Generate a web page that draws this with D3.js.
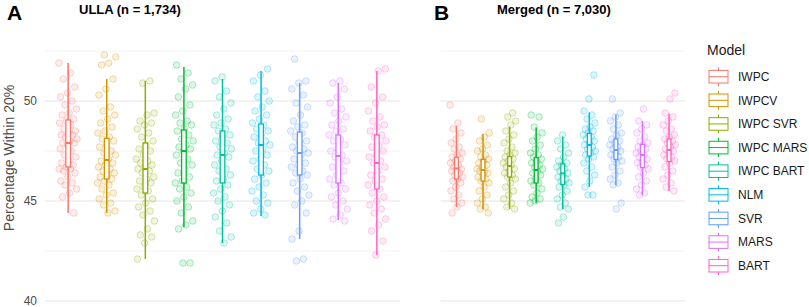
<!DOCTYPE html>
<html>
<head>
<meta charset="utf-8">
<script src="https://cdn.jsdelivr.net/npm/d3@7"></script>
<style>
    body { margin: 0; background: #ffffff; }
    text { font-family: "Liberation Sans", Arial, Helvetica, sans-serif; }
</style>
</head>
<body>
<svg id="chart" width="809" height="307"></svg>
<script>
const models = ['IWPC', 'IWPCV', 'IWPC SVR', 'IWPC MARS', 'IWPC BART', 'NLM', 'SVR', 'MARS', 'BART'];
const colors = ['#F8766D', '#D39200', '#93AA00', '#00BA38', '#00C19F', '#00B9E3', '#619CFF', '#DB72FB', '#FF61C3'];

const yTicks = [40, 45, 50];
const yGrid = [40, 42.5, 45, 47.5, 50, 52.5];

// ULLA box stats (panel A)
const ullaMin = [44.4, 44.4, 42.1, 43.7, 42.9, 44.25, 43.1, 44.05, 42.3];
const ullaQ1 = [46.7, 46.1, 45.4, 45.9, 45.9, 46.3, 46.3, 45.9, 45.6];
const ullaMed = [47.9, 47.05, 46.6, 47.5, 47.3, 47.8, 47.4, 47.25, 46.9];
const ullaQ3 = [49.05, 48.13, 47.9, 48.55, 48.5, 48.85, 48.45, 48.3, 48.3];
const ullaMax = [51.9, 51.1, 51.0, 51.7, 51.1, 51.5, 50.9, 50.9, 51.5];

// Merged box stats (panel B)
const mergedMin = [44.7, 44.6, 44.6, 44.9, 44.6, 45.7, 45.8, 45.3, 45.5];
const mergedQ1 = [46.1, 46.0, 46.2, 45.9, 45.83, 47.25, 47.08, 46.67, 46.97];
const mergedMed = [46.63, 46.55, 46.75, 46.55, 46.38, 47.8, 47.55, 47.3, 47.55];
const mergedQ3 = [47.18, 47.08, 47.22, 47.17, 46.85, 48.38, 48.1, 47.83, 48.1];
const mergedMax = [48.75, 48.35, 48.72, 48.67, 48.22, 49.43, 49.33, 49.0, 49.38];

// individual runs, ULLA
const ullaPoints = [
    [51.9, 51.4, 51.1, 50.7, 50.4, 50.2, 50.0, 49.8, 49.6, 49.4, 49.3, 49.1, 49.0, 48.9, 48.8, 48.6, 48.5, 48.4, 48.3, 48.3, 48.2, 48.1, 48.0, 47.9, 47.9, 47.8, 47.6, 47.5, 47.3, 47.2, 47.0, 46.9, 46.8, 46.7, 46.6, 46.6, 46.5, 46.4, 46.2, 46.0, 45.9, 45.8, 45.6, 45.4, 45.2, 44.4],
    [52.3, 52.2, 51.9, 51.8, 51.1, 50.6, 50.3, 49.7, 49.5, 49.3, 49.1, 48.9, 48.7, 48.5, 48.4, 48.2, 48.1, 48.0, 47.8, 47.7, 47.5, 47.4, 47.3, 47.1, 47.0, 46.9, 46.8, 46.7, 46.6, 46.5, 46.4, 46.3, 46.2, 46.1, 46.0, 45.9, 45.8, 45.6, 45.4, 45.3, 45.1, 44.9, 44.8, 44.5, 44.4],
    [51.0, 50.9, 49.4, 49.3, 49.0, 48.9, 48.8, 48.6, 48.4, 48.2, 48.0, 47.8, 47.6, 47.5, 47.3, 47.1, 47.0, 46.9, 46.8, 46.7, 46.6, 46.5, 46.4, 46.2, 46.1, 46.0, 45.9, 45.7, 45.6, 45.5, 45.3, 45.1, 44.9, 44.7, 44.5, 44.3, 44.0, 43.6, 43.3, 43.2, 42.9, 42.1],
    [51.8, 51.4, 51.1, 50.8, 50.6, 50.2, 49.8, 49.5, 49.3, 49.0, 48.9, 48.8, 48.6, 48.5, 48.3, 48.1, 48.0, 47.8, 47.7, 47.6, 47.5, 47.3, 47.1, 46.9, 46.8, 46.6, 46.4, 46.2, 46.0, 45.9, 45.7, 45.6, 45.4, 45.2, 45.0, 44.7, 44.4, 44.0, 43.8, 43.6, 41.9, 41.9],
    [51.2, 51.0, 50.5, 50.2, 49.9, 49.6, 49.3, 49.1, 48.9, 48.8, 48.6, 48.5, 48.3, 48.2, 48.0, 47.9, 47.7, 47.6, 47.4, 47.3, 47.2, 47.0, 46.8, 46.6, 46.5, 46.3, 46.1, 46.0, 45.8, 45.6, 45.4, 45.2, 45.0, 44.8, 44.5, 44.2, 43.9, 43.5, 43.2, 42.9],
    [51.6, 51.3, 51.0, 50.5, 50.2, 50.0, 49.7, 49.5, 49.3, 49.1, 48.9, 48.8, 48.6, 48.5, 48.3, 48.2, 48.0, 47.9, 47.8, 47.6, 47.5, 47.3, 47.1, 47.0, 46.8, 46.6, 46.5, 46.3, 46.1, 45.9, 45.7, 45.5, 45.3, 45.0, 44.9, 44.6, 44.4, 44.3],
    [52.1, 51.0, 50.9, 50.6, 50.3, 49.9, 49.7, 49.3, 49.0, 48.8, 48.7, 48.5, 48.4, 48.2, 48.0, 47.9, 47.7, 47.6, 47.5, 47.4, 47.3, 47.1, 46.9, 46.8, 46.7, 46.5, 46.4, 46.3, 46.1, 45.9, 45.7, 45.5, 45.3, 45.0, 44.8, 44.4, 43.5, 43.1, 42.1, 42.0],
    [51.0, 50.9, 50.6, 50.2, 49.9, 49.6, 49.4, 49.2, 49.0, 48.8, 48.6, 48.5, 48.3, 48.1, 48.0, 47.8, 47.6, 47.5, 47.3, 47.2, 47.0, 46.9, 46.7, 46.5, 46.3, 46.1, 45.9, 45.8, 45.6, 45.4, 45.2, 45.0, 44.8, 44.6, 44.3, 44.1, 44.0],
    [51.6, 51.5, 50.7, 50.2, 49.9, 49.5, 49.2, 49.0, 48.8, 48.7, 48.5, 48.3, 48.2, 48.0, 47.8, 47.7, 47.5, 47.3, 47.2, 47.0, 46.9, 46.7, 46.5, 46.3, 46.1, 46.0, 45.8, 45.6, 45.4, 45.2, 45.0, 44.8, 44.6, 44.4, 44.1, 43.8, 43.5, 43.0, 42.3]
];

// individual runs, merged
const mergedPoints = [
    [49.8, 48.9, 48.6, 48.4, 48.1, 47.9, 47.7, 47.6, 47.4, 47.3, 47.2, 47.1, 47.0, 46.9, 46.8, 46.7, 46.6, 46.6, 46.5, 46.4, 46.3, 46.2, 46.1, 46.0, 45.9, 45.7, 45.5, 45.3, 45.1, 44.9, 44.7, 44.4],
    [49.1, 48.4, 48.2, 48.0, 47.8, 47.6, 47.5, 47.3, 47.2, 47.1, 47.0, 46.9, 46.8, 46.7, 46.6, 46.5, 46.5, 46.4, 46.3, 46.2, 46.1, 46.0, 45.9, 45.7, 45.5, 45.3, 45.1, 44.9, 44.7, 44.6, 44.4],
    [49.4, 49.2, 49.0, 48.8, 48.5, 48.3, 48.1, 47.9, 47.7, 47.5, 47.4, 47.3, 47.2, 47.1, 47.0, 46.9, 46.8, 46.7, 46.6, 46.5, 46.4, 46.3, 46.2, 46.1, 45.9, 45.7, 45.5, 45.3, 45.1, 44.9, 44.7, 44.6],
    [49.3, 49.2, 48.7, 48.4, 48.2, 48.0, 47.8, 47.6, 47.4, 47.3, 47.2, 47.1, 47.0, 46.9, 46.8, 46.7, 46.6, 46.5, 46.4, 46.3, 46.1, 46.0, 45.9, 45.8, 45.6, 45.4, 45.2, 45.1, 45.0, 44.9],
    [48.3, 48.0, 47.8, 47.6, 47.4, 47.2, 47.0, 46.9, 46.8, 46.7, 46.6, 46.5, 46.4, 46.3, 46.2, 46.1, 46.0, 45.9, 45.8, 45.7, 45.5, 45.3, 45.1, 44.9, 44.7, 44.6, 44.2, 43.9],
    [51.3, 50.1, 49.5, 49.3, 49.1, 48.9, 48.7, 48.6, 48.5, 48.4, 48.3, 48.2, 48.1, 48.0, 47.9, 47.8, 47.7, 47.6, 47.5, 47.4, 47.3, 47.2, 47.1, 46.9, 46.7, 46.5, 46.3, 46.0, 45.7, 45.3, 45.3],
    [50.1, 49.4, 49.2, 49.0, 48.8, 48.6, 48.4, 48.3, 48.1, 48.0, 47.9, 47.8, 47.7, 47.6, 47.5, 47.4, 47.3, 47.2, 47.1, 47.0, 46.9, 46.7, 46.5, 46.3, 46.1, 45.9, 45.8, 44.9, 44.6],
    [49.6, 49.0, 48.8, 48.6, 48.4, 48.2, 48.0, 47.9, 47.8, 47.7, 47.6, 47.5, 47.4, 47.3, 47.2, 47.1, 47.0, 46.9, 46.8, 46.7, 46.6, 46.4, 46.2, 46.0, 45.8, 45.6, 45.4, 45.3],
    [50.4, 50.1, 49.4, 49.2, 49.0, 48.8, 48.6, 48.5, 48.3, 48.2, 48.1, 48.0, 47.9, 47.8, 47.7, 47.6, 47.5, 47.4, 47.3, 47.2, 47.1, 47.0, 46.9, 46.7, 46.5, 46.3, 46.1, 45.9, 45.7, 45.5]
];

const svg = d3.select('#chart');

const y = d3.scaleLinear().domain([40, 52.5]).range([301, 51]);

function stats(mins, q1s, meds, q3s, maxs) {
    return models.map((m, i) => ({
        model: m, color: colors[i],
        min: mins[i], q1: q1s[i], med: meds[i], q3: q3s[i], max: maxs[i]
    }));
}

function drawPanel(x0, x1, boxStats, points, boxW) {
    const g = svg.append('g');

    const x = d3.scalePoint().domain(models).range([x0, x1]).padding(0.6);
    const jitterW = x.step() * 0.48;

    // gridlines
    g.selectAll('line.grid')
        .data(yGrid)
        .enter().append('line')
        .attr('x1', x0).attr('x2', x1)
        .attr('y1', d => y(d)).attr('y2', d => y(d))
        .attr('stroke', d => (d % 5 === 0) ? '#e6e6e6' : '#f0f0f0')
        .attr('stroke-width', d => (d % 5 === 0) ? 1.1 : 0.8);

    // jittered points (offset spread by golden ratio so it stays deterministic)
    points.forEach((vals, i) => {
        g.append('g').selectAll('circle')
            .data(vals)
            .enter().append('circle')
            .attr('cx', (d, j) => x(models[i]) + (((j * 0.618034 + i * 0.37) % 1) - 0.5) * jitterW)
            .attr('cy', d => y(d))
            .attr('r', 3.3)
            .attr('fill', colors[i])
            .attr('fill-opacity', 0.13)
            .attr('stroke', colors[i])
            .attr('stroke-opacity', 0.3)
            .attr('stroke-width', 1);
    });

    const box = g.selectAll('g.box')
        .data(boxStats)
        .enter().append('g');

    box.append('line')
        .attr('x1', d => x(d.model)).attr('x2', d => x(d.model))
        .attr('y1', d => y(d.max)).attr('y2', d => y(d.min))
        .attr('stroke', d => d.color)
        .attr('stroke-width', 1.5);

    box.append('rect')
        .attr('x', d => x(d.model) - boxW / 2)
        .attr('width', boxW)
        .attr('y', d => y(d.q3))
        .attr('height', d => y(d.q1) - y(d.q3))
        .attr('fill', '#ffffff')
        .attr('stroke', d => d.color)
        .attr('stroke-width', 1.3);

    box.append('line')
        .attr('x1', d => x(d.model) - boxW / 2).attr('x2', d => x(d.model) + boxW / 2)
        .attr('y1', d => y(d.med)).attr('y2', d => y(d.med))
        .attr('stroke', d => d.color)
        .attr('stroke-width', 2);
}

drawPanel(45, 400, stats(ullaMin, ullaQ1, ullaMed, ullaQ3, ullaMax), ullaPoints, 4.6);
drawPanel(440.5, 685, stats(mergedMin, mergedQ1, mergedMed, mergedQ3, mergedMax), mergedPoints, 3.8);

// y axis (panel A only)
svg.append('g')
    .selectAll('text')
    .data(yTicks)
    .enter().append('text')
    .attr('x', 37)
    .attr('y', d => y(d))
    .attr('dy', '0.35em')
    .attr('text-anchor', 'end')
    .attr('font-size', '12px')
    .attr('fill', '#4d4d4d')
    .text(d => d);

svg.append('text')
    .attr('transform', 'translate(14,158) rotate(-90)')
    .attr('text-anchor', 'middle')
    .attr('font-size', '14px')
    .attr('fill', '#4d4d4d')
    .text('Percentage Within 20%');

// panel tags and titles
svg.append('text').attr('x', 7).attr('y', 20)
    .attr('font-size', '21px').attr('font-weight', 'bold').text('A');
svg.append('text').attr('x', 79).attr('y', 14)
    .attr('font-size', '13px').attr('font-weight', 'bold').text('ULLA (n = 1,734)');
svg.append('text').attr('x', 434).attr('y', 20)
    .attr('font-size', '21px').attr('font-weight', 'bold').text('B');
svg.append('text').attr('x', 497).attr('y', 14)
    .attr('font-size', '13px').attr('font-weight', 'bold').text('Merged (n = 7,030)');

// legend
const legend = svg.append('g').attr('transform', 'translate(707,0)');
legend.append('text')
    .attr('x', 0).attr('y', 55)
    .attr('font-size', '14px')
    .attr('fill', '#1a1a1a')
    .text('Model');

const keyY = d3.scalePoint().domain(models).range([76.7, 265.7]);

const key = legend.selectAll('g.key')
    .data(models)
    .enter().append('g')
    .attr('transform', d => `translate(0,${keyY(d)})`);

key.append('line')
    .attr('x1', 11.5).attr('x2', 11.5)
    .attr('y1', -9.5).attr('y2', 9.5)
    .attr('stroke', (d, i) => colors[i])
    .attr('stroke-width', 1);
key.append('rect')
    .attr('x', 2).attr('y', -6.3)
    .attr('width', 19).attr('height', 12.6)
    .attr('fill', '#ffffff')
    .attr('stroke', (d, i) => colors[i])
    .attr('stroke-width', 1);
key.append('line')
    .attr('x1', 2).attr('x2', 21)
    .attr('y1', 0).attr('y2', 0)
    .attr('stroke', (d, i) => colors[i])
    .attr('stroke-width', 1);
key.append('text')
    .attr('x', 31).attr('y', 0)
    .attr('dy', '0.35em')
    .attr('font-size', '12px')
    .attr('fill', '#1a1a1a')
    .text(d => d);
</script>
</body>
</html>
